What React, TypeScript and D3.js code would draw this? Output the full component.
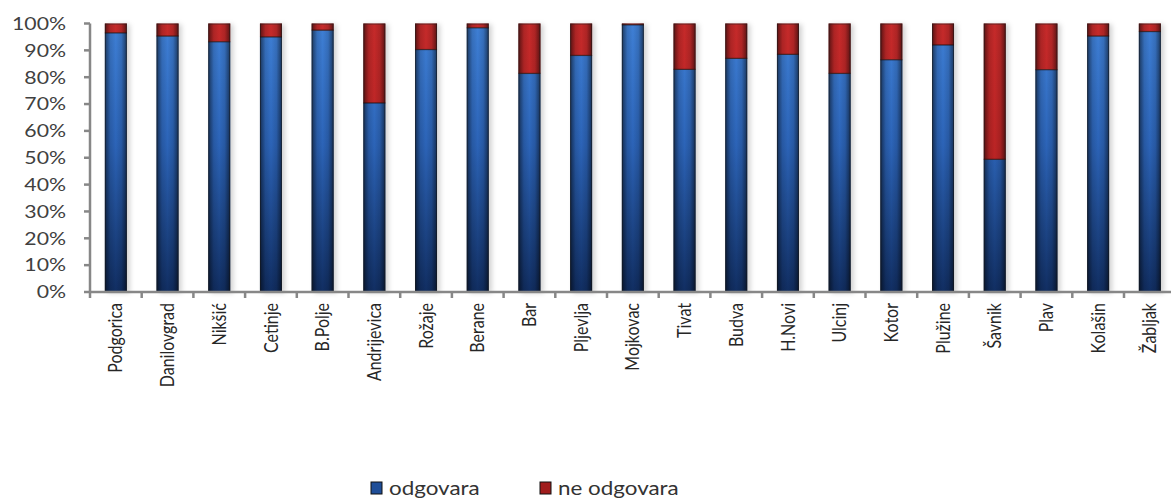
import { useEffect, useRef } from "react"
import * as d3 from "d3"

const cities = [
  "Podgorica", "Danilovgrad", "Nikšić", "Cetinje", "B.Polje", "Andrijevica", "Rožaje",
  "Berane", "Bar", "Pljevlja", "Mojkovac", "Tivat", "Budva", "H.Novi", "Ulcinj",
  "Kotor", "Plužine", "Šavnik", "Plav", "Kolašin", "Žabljak",
]
const odgovara = [96.5, 95.3, 93.2, 95, 97.5, 70.4, 90.3, 98.4, 81.4, 88.1, 99.5, 82.9, 87, 88.5, 81.4, 86.5, 92, 49.4, 82.8, 95.3, 97]
const neOdgovara = [3.5, 4.7, 6.8, 5, 2.5, 29.6, 9.7, 1.6, 18.6, 11.9, 0.5, 17.1, 13, 11.5, 18.6, 13.5, 8, 50.6, 17.2, 4.7, 3]
const yTicks = [0, 10, 20, 30, 40, 50, 60, 70, 80, 90, 100]
const seriesNames = ["odgovara", "ne odgovara"]

const W = 1171
const H = 500
const SX = 1.18 // the source picture is stretched horizontally
const FONT = "Lato, 'Open Sans', sans-serif"

export default function App() {
  const svgRef = useRef<SVGSVGElement>(null)

  useEffect(() => {
    const svgEl = svgRef.current
    if (!svgEl) return
    const svg = d3.select(svgEl)
    svg.selectAll("*").remove()

    const left = 90
    const step = 51.7
    const x = d3.scaleBand<string>()
      .domain(cities)
      .range([left, left + step * cities.length])
      .paddingInner(1 - 22 / step)
      .paddingOuter((1 - 22 / step) / 2)
    const y = d3.scaleLinear().domain([0, 100]).range([292, 23.5])

    const defs = svg.append("defs")
    const vBlue = defs.append("linearGradient").attr("id", "vblue")
      .attr("gradientUnits", "userSpaceOnUse").attr("x1", 0).attr("x2", 0).attr("y1", y(100)).attr("y2", y(0))
    vBlue.append("stop").attr("offset", "0%").attr("stop-color", "#3f80d6")
    vBlue.append("stop").attr("offset", "45%").attr("stop-color", "#2c64b8")
    vBlue.append("stop").attr("offset", "100%").attr("stop-color", "#112e62")
    const vRed = defs.append("linearGradient").attr("id", "vred")
      .attr("gradientUnits", "userSpaceOnUse").attr("x1", 0).attr("x2", 0).attr("y1", y(100)).attr("y2", y(0))
    vRed.append("stop").attr("offset", "0%").attr("stop-color", "#c52a2a")
    vRed.append("stop").attr("offset", "100%").attr("stop-color", "#b01e1f")
    const hShade = defs.append("linearGradient").attr("id", "hshade")
      .attr("x1", 0).attr("x2", 1).attr("y1", 0).attr("y2", 0)
    hShade.append("stop").attr("offset", "0%").attr("stop-color", "#000").attr("stop-opacity", 0.55)
    hShade.append("stop").attr("offset", "25%").attr("stop-color", "#000").attr("stop-opacity", 0.12)
    hShade.append("stop").attr("offset", "50%").attr("stop-color", "#000").attr("stop-opacity", 0)
    hShade.append("stop").attr("offset", "75%").attr("stop-color", "#000").attr("stop-opacity", 0.12)
    hShade.append("stop").attr("offset", "100%").attr("stop-color", "#000").attr("stop-opacity", 0.55)
    const shadow = defs.append("filter").attr("id", "shadow")
      .attr("x", "-50%").attr("y", "-10%").attr("width", "200%").attr("height", "120%")
    shadow.append("feDropShadow").attr("dx", 3).attr("dy", 1).attr("stdDeviation", 2.5)
      .attr("flood-color", "#000").attr("flood-opacity", 0.18)

    const rows = cities.map((c, i) => ({ c, a: odgovara[i], b: neOdgovara[i] }))
    const bars = svg.append("g")
    const bw = x.bandwidth()

    rows.forEach(r => {
      const g = bars.append("g")
      const x0 = x(r.c) as number
      g.append("rect").attr("x", x0).attr("width", bw)
        .attr("y", y(r.a + r.b)).attr("height", y(0) - y(r.a + r.b))
        .attr("fill", "#fff").attr("filter", "url(#shadow)")
      // odgovara
      g.append("rect").attr("x", x0).attr("width", bw)
        .attr("y", y(r.a)).attr("height", y(0) - y(r.a)).attr("fill", "url(#vblue)")
      g.append("rect").attr("x", x0).attr("width", bw)
        .attr("y", y(r.a)).attr("height", y(0) - y(r.a)).attr("fill", "url(#hshade)")
      // ne odgovara
      g.append("rect").attr("x", x0).attr("width", bw)
        .attr("y", y(r.a + r.b)).attr("height", y(r.a) - y(r.a + r.b)).attr("fill", "url(#vred)")
      g.append("rect").attr("x", x0).attr("width", bw)
        .attr("y", y(r.a + r.b)).attr("height", y(r.a) - y(r.a + r.b)).attr("fill", "url(#hshade)")
      // outline
      g.append("rect").attr("x", x0 + 0.5).attr("width", bw - 1)
        .attr("y", y(r.a + r.b) + 0.5).attr("height", y(0) - y(r.a + r.b) - 1)
        .attr("fill", "none").attr("stroke", "#1a1a1a").attr("stroke-opacity", 0.55)
      g.append("line").attr("x1", x0).attr("x2", x0 + bw).attr("y1", y(r.a)).attr("y2", y(r.a))
        .attr("stroke", "#1a0a0a").attr("stroke-opacity", 0.7).attr("stroke-width", 1.2)
    })

    // axes
    const axisColor = "#878787"
    const ax = svg.append("g")
    ax.append("line").attr("x1", left).attr("x2", left).attr("y1", y(100)).attr("y2", y(0))
      .attr("stroke", axisColor).attr("stroke-width", 2.5)
    ax.append("line").attr("x1", left).attr("x2", x.range()[1]).attr("y1", y(0)).attr("y2", y(0))
      .attr("stroke", axisColor).attr("stroke-width", 2.5)
    yTicks.forEach(t => {
      ax.append("line").attr("x1", left - 6).attr("x2", left).attr("y1", y(t)).attr("y2", y(t))
        .attr("stroke", axisColor).attr("stroke-width", 2.5)
      ax.append("text")
        .attr("transform", `translate(66,${y(t)}) scale(${SX},1)`)
        .attr("text-anchor", "end").attr("dy", "0.35em")
        .attr("font-family", FONT).attr("font-size", 18).attr("fill", "#404040")
        .text(`${t}%`)
    })
    const boundaries = cities.map(c => (x(c) as number) - (x.step() - bw) / 2)
    boundaries.push(x.range()[1])
    boundaries.forEach(b => {
      ax.append("line").attr("x1", b).attr("x2", b).attr("y1", y(0)).attr("y2", y(0) + 6)
        .attr("stroke", axisColor).attr("stroke-width", 2.5)
    })
    cities.forEach(c => {
      const cx = (x(c) as number) + bw / 2
      ax.append("text")
        .attr("transform", `translate(${cx},303) scale(${SX},1) rotate(-90)`)
        .attr("text-anchor", "end").attr("dy", "0.35em")
        .attr("font-family", FONT).attr("font-size", 16).attr("fill", "#262626")
        .text(c)
    })

    // legend
    const legend = svg.append("g")
    const items = [
      { name: seriesNames[0], fill: "url(#vblue)", x: 371 },
      { name: seriesNames[1], fill: "url(#vred)", x: 540 },
    ]
    items.forEach(it => {
      legend.append("rect").attr("x", it.x).attr("y", 482).attr("width", 11).attr("height", 12)
        .attr("fill", it.fill === "url(#vblue)" ? "#1f4e98" : "#a01c1c")
        .attr("stroke", "#111").attr("stroke-width", 1)
      legend.append("text")
        .attr("transform", `translate(${it.x + 18},495) scale(${SX},1)`)
        .attr("font-family", FONT).attr("font-size", 19).attr("fill", "#333")
        .text(it.name)
    })
  }, [])

  return (
    <svg
      ref={svgRef}
      width={W}
      height={H}
      style={{ position: "absolute", left: 0, top: 0, background: "#fff" }}
      role="img"
      aria-label="odgovara / ne odgovara po opštinama"
    />
  )
}
